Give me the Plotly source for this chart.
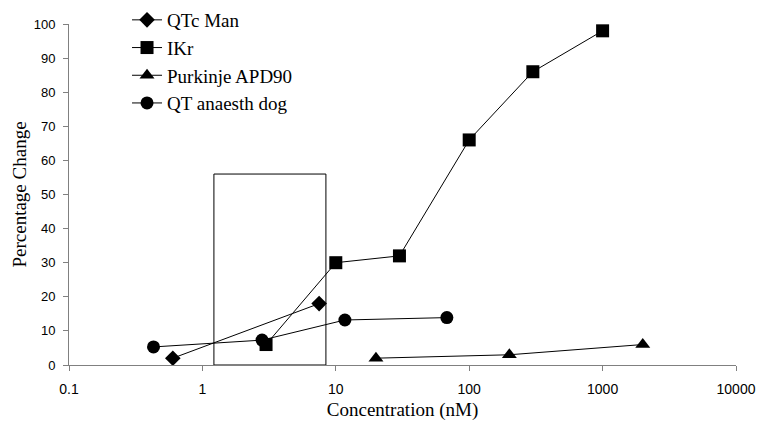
import plotly.graph_objects as go

# Data
qtc_man_x = [0.6, 7.5]
qtc_man_y = [2, 18]

ikr_x = [3, 10, 30, 100, 300, 1000]
ikr_y = [6, 30, 32, 66, 86, 98]

purkinje_x = [20, 200, 2000]
purkinje_y = [2, 3, 6]

qt_dog_x = [0.43, 2.8, 11.7, 68]
qt_dog_y = [5.3, 7.3, 13.2, 13.9]

# Highlight box (concentration range and height)
box_x = [1.22, 8.43]
box_y = [0, 56]

x_tickvals = [0.1, 1, 10, 100, 1000, 10000]
x_ticktext = ["0.1", "1", "10", "100", "1000", "10000"]
y_tickvals = list(range(0, 101, 10))

line_style = dict(color="black", width=1)

fig = go.Figure()

fig.add_trace(go.Scatter(
    x=[box_x[0], box_x[0], box_x[1], box_x[1], box_x[0]],
    y=[box_y[0], box_y[1], box_y[1], box_y[0], box_y[0]],
    mode="lines", line=dict(color="black", width=1),
    showlegend=False, hoverinfo="skip"))

fig.add_trace(go.Scatter(
    x=qtc_man_x, y=qtc_man_y, name="QTc Man", mode="lines+markers",
    line=line_style, marker=dict(symbol="diamond", size=12, color="black")))
fig.add_trace(go.Scatter(
    x=ikr_x, y=ikr_y, name="IKr", mode="lines+markers",
    line=line_style, marker=dict(symbol="square", size=13, color="black")))
fig.add_trace(go.Scatter(
    x=purkinje_x, y=purkinje_y, name="Purkinje APD90", mode="lines+markers",
    line=line_style, marker=dict(symbol="triangle-up", size=13, color="black")))
fig.add_trace(go.Scatter(
    x=qt_dog_x, y=qt_dog_y, name="QT anaesth dog", mode="lines+markers",
    line=line_style, marker=dict(symbol="circle", size=13, color="black")))

H_TOTAL = 421
M_BOTTOM = 56
PLOT_TOP_PX = 24
area_h = H_TOTAL - M_BOTTOM

fig.update_layout(
    width=757, height=H_TOTAL,
    margin=dict(l=69, r=21, t=0, b=M_BOTTOM, autoexpand=False),
    paper_bgcolor="white", plot_bgcolor="white",
    showlegend=True,
    legend=dict(
        x=0.087, y=(area_h - 1) / area_h, xanchor="left", yanchor="top",
        font=dict(family="Liberation Serif", size=19, color="black"),
        bgcolor="rgba(0,0,0,0)", borderwidth=0, tracegroupgap=0,
    ),
    xaxis=dict(
        type="log", range=[-1, 4],
        tickvals=x_tickvals, ticktext=x_ticktext,
        showgrid=False, zeroline=False, automargin=False,
        showline=True, linecolor="#808080", linewidth=1,
        ticks="outside", ticklen=5, tickcolor="#808080", tickwidth=1,
        ticklabelstandoff=6,
        tickfont=dict(family="Liberation Sans", size=14, color="black"),
        title=dict(text="Concentration (nM)", standoff=6,
                   font=dict(family="Liberation Serif", size=19, color="black")),
    ),
    yaxis=dict(
        range=[0, 100], tickvals=y_tickvals,
        domain=[0, (area_h - PLOT_TOP_PX) / area_h],
        showgrid=False, zeroline=False, automargin=False,
        showline=True, linecolor="#808080", linewidth=1,
        ticks="outside", ticklen=5, tickcolor="#808080", tickwidth=1,
        ticklabelstandoff=5,
        tickfont=dict(family="Liberation Sans", size=13, color="black"),
        title=dict(text="Percentage Change", standoff=2,
                   font=dict(family="Liberation Serif", size=19, color="black")),
    ),
)

fig.write_html("out.html")
